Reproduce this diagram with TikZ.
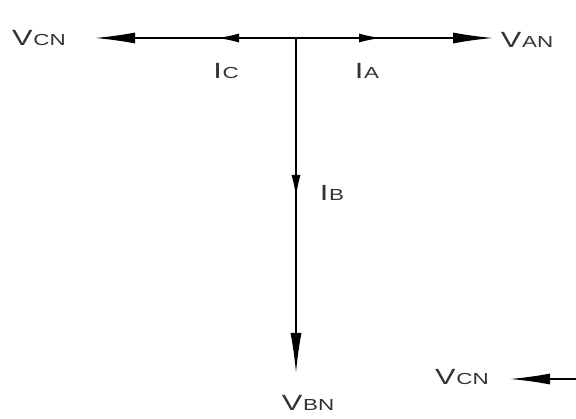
\documentclass[tikz,border=0pt]{standalone}
\usepackage{fontspec}
\setmainfont{Liberation Sans}
\usetikzlibrary{arrows.meta}

\newcommand{\phlbl}[2]{\scalebox{1.4}[1]{\fontsize{22}{24}\selectfont #1\kern0.5pt\fontsize{16}{18}\selectfont #2}}

\tikzset{
  phasor/.style={line width=1.4pt, -{Latex[length=40pt,width=11pt]}},
  current/.style={line width=1.4pt, -{Latex[length=22pt,width=9pt]}},
  lbl/.style={inner sep=0pt, text=black!80}
}

\begin{document}
\begin{tikzpicture}[x=1pt,y=-1pt]
\useasboundingbox (0,0) rectangle (576,419);

% junction and tips
\coordinate (O) at (296,38);
\coordinate (tipC) at (95,38);
\coordinate (tipA) at (493,38);
\coordinate (tipB) at (296,373);
\coordinate (iC) at (217,38);
\coordinate (iA) at (381,38);
\coordinate (iB) at (296,197);
\coordinate (edge) at (576,379);
\coordinate (tipC2) at (510,379);

% phasors
\draw[phasor] (O) -- (tipC);
\draw[phasor] (O) -- (tipA);
\draw[phasor] (O) -- (tipB);
\draw[current] (O) -- (iC);
\draw[current] (O) -- (iA);
\draw[current] (O) -- (iB);
\draw[phasor] (edge) -- (tipC2);

% labels
\node[lbl] (vcn) at (39,38) {\phlbl{V}{CN}};
\node[lbl] (van) at (527,40) {\phlbl{V}{AN}};
\node[lbl] (vbn) at (308,403) {\phlbl{V}{BN}};
\node[lbl] (vcn2) at (462,377) {\phlbl{V}{CN}};
\node[lbl] (ic) at (226,71) {\phlbl{I}{C}};
\node[lbl] (ia) at (367,71) {\phlbl{I}{A}};
\node[lbl] (ib) at (332,193) {\phlbl{I}{B}};
\end{tikzpicture}
\end{document}
